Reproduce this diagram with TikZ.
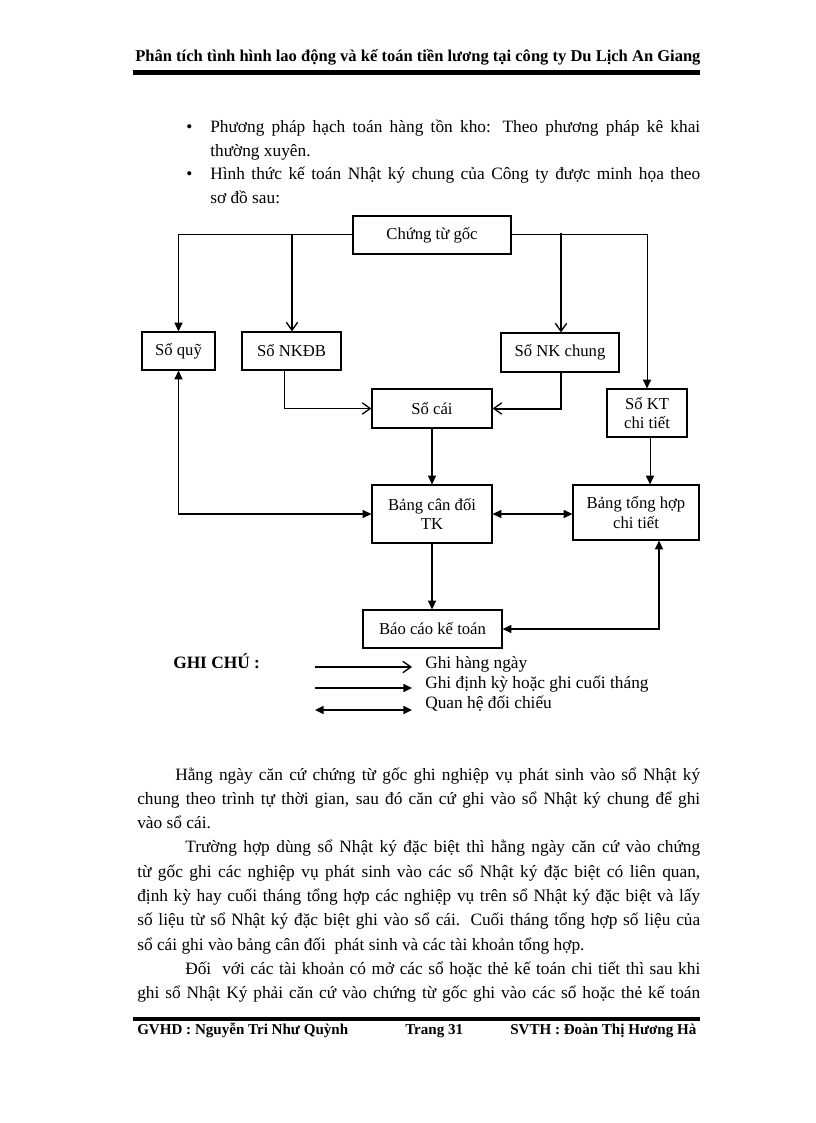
\documentclass[tikz,border=0pt]{standalone}
\usepackage{fontspec}
\setmainfont{Liberation Serif}
\usetikzlibrary{arrows.meta}
\newcommand{\jl}[2]{\makebox[#1][s]{#2}}
\begin{document}
\begin{tikzpicture}[x=0.75pt,y=-0.75pt,
  box/.style={draw,line width=0.9pt,inner sep=0pt,align=center,font=\fontsize{12.5}{14.5}\selectfont},
  thinln/.style={line width=0.75pt},
  medln/.style={line width=1.1pt},
  thickln/.style={line width=1.5pt},
  fa/.style={-{Triangle[length=6.5pt,width=6pt]}},
  oa/.style={-{Straight Barb[length=6pt,width=8.5pt,line width=1pt]}},
  da/.style={{Triangle[length=6.5pt,width=6pt]}-{Triangle[length=6.5pt,width=6pt]}},
  body/.style={anchor=base west,inner sep=0pt,font=\fontsize{13}{16}\selectfont},
  bhead/.style={anchor=base west,inner sep=0pt,font=\bfseries\fontsize{12.4}{14}\selectfont},
  bfoot/.style={anchor=base west,inner sep=0pt,font=\bfseries\fontsize{11.3}{13}\selectfont},
  rule/.style={line width=3.5pt}]
\useasboundingbox[fill=white] (0,0) rectangle (816,1123);

% header
\node[bhead] (head) at (135,62) {Phân tích tình hình lao động và kế toán tiền lương tại công ty Du Lịch An Giang};
\draw[rule] (133,72.5) -- (700,72.5);

% bullets
\node[body] (b1) at (186,133) {\textbullet};
\node[body] (t1) at (210,133) {\jl{367.5pt}{Phương pháp hạch toán hàng tồn kho: Theo phương pháp kê khai}};
\node[body] (t2) at (210,156.5) {thường xuyên.};
\node[body] (b2) at (186,180) {\textbullet};
\node[body] (t3) at (210,180) {\jl{367.5pt}{Hình thức kế toán Nhật ký chung của Công ty được minh họa theo}};
\node[body] (t4) at (210,203.5) {sơ đồ sau:};

% boxes
\node[box,minimum width=118.5pt,minimum height=28.5pt] (goc) at (432,235) {Chứng từ gốc};
\node[box,minimum width=54.75pt,minimum height=28.5pt] (quy) at (178.5,351) {Sổ quỹ};
\node[box,minimum width=74.25pt,minimum height=28.5pt] (nkdb) at (291.5,351) {Sổ NKĐB};
\node[box,minimum width=88.5pt,minimum height=29.25pt] (nkc) at (560,352.5) {Sổ NK chung};
\node[box,minimum width=90pt,minimum height=29.25pt] (cai) at (432,408.5) {Sổ cái};
\node[box,minimum width=60pt,minimum height=36pt] (kt) at (647,413) {Sổ KT\\chi tiết};
\node[box,minimum width=90pt,minimum height=43.5pt] (bcd) at (432,514) {Bảng cân đối\\TK};
\node[box,minimum width=94.5pt,minimum height=41.25pt] (bth) at (636,512.5) {Bảng tổng hợp\\chi tiết};
\node[box,minimum width=104.25pt,minimum height=28.5pt] (bc) at (432.5,629) {Báo cáo kế toán};

% connectors
\coordinate (j1) at (292,235);
\coordinate (j2) at (561,233);
\coordinate (a1) at (284,370);
\coordinate (k1) at (650,0);
\coordinate (k2) at (659,0);
\draw[thinln,fa] (goc.west) -| (quy.north);
\draw[thinln,fa] (goc.east) -| (kt.north);
\draw[thickln,oa] (j1) -- (j1 |- nkdb.north);
\draw[thickln,oa] (j2) -- (j2 |- nkc.north);
\draw[thinln,oa] (a1) |- (cai.west);
\draw[thickln,oa] (nkc.south -| j2) |- (cai.east);
\draw[medln,fa] (cai.south) -- (bcd.north);
\draw[medln,da] (quy.south) |- (bcd.west);
\draw[medln,da] (bcd.east) -- (bcd.east -| bth.west);
\draw[thinln,fa] (kt.south -| k1) -- (bth.north -| k1);
\draw[medln,fa] (bcd.south) -- (bcd.south |- bc.north);
\draw[medln,da] (bc.east) -| (bth.south -| k2);

% legend
\node[bhead,font=\bfseries\fontsize{13}{16}\selectfont] (gc) at (173,668) {GHI CHÚ :};
\coordinate (l1a) at (315,667); \coordinate (l1b) at (412,667);
\coordinate (l2a) at (315,688); \coordinate (l2b) at (412,688);
\coordinate (l3a) at (315,710); \coordinate (l3b) at (412,710);
\draw[medln,oa] (l1a) -- (l1b);
\draw[medln,fa] (l2a) -- (l2b);
\draw[medln,da] (l3a) -- (l3b);
\node[body] (g1) at (425,668) {Ghi hàng ngày};
\node[body] (g2) at (425,688) {Ghi định kỳ hoặc ghi cuối tháng};
\node[body] (g3) at (425,708) {Quan hệ đối chiếu};

% body text
\node[body] (p1) at (175,780) {\jl{393.75pt}{Hằng ngày căn cứ chứng từ gốc ghi nghiệp vụ phát sinh vào sổ Nhật ký}};
\node[body] (p2) at (137,804.3) {\jl{422.25pt}{chung theo trình tự thời gian, sau đó căn cứ ghi vào sổ Nhật ký chung để ghi}};
\node[body] (p3) at (137,828.6) {vào sổ cái.};
\node[body] (p4) at (185,852.9) {\jl{386.25pt}{Trường hợp dùng sổ Nhật ký đặc biệt thì hằng ngày căn cứ vào chứng}};
\node[body] (p5) at (137,877.2) {\jl{422.25pt}{từ gốc ghi các nghiệp vụ phát sinh vào các sổ Nhật ký đặc biệt có liên quan,}};
\node[body] (p6) at (137,901.5) {\jl{422.25pt}{định kỳ hay cuối tháng tổng hợp các nghiệp vụ trên sổ Nhật ký đặc biệt và lấy}};
\node[body] (p7) at (137,925.8) {\jl{422.25pt}{số liệu từ sổ Nhật ký đặc biệt ghi vào sổ cái. Cuối tháng tổng hợp số liệu của}};
\node[body] (p8) at (137,950.1) {sổ cái ghi vào bảng cân đối\ \ phát sinh và các tài khoản tổng hợp.};
\node[body] (p9) at (185,974.4) {\jl{386.25pt}{Đối\ \ với các tài khoản có mở các sổ hoặc thẻ kế toán chi tiết thì sau khi}};
\node[body] (p10) at (137,998.7) {\jl{422.25pt}{ghi sổ Nhật Ký phải căn cứ vào chứng từ gốc ghi vào các sổ hoặc thẻ kế toán}};

% footer
\draw[rule] (133,1019) -- (700,1019);
\node[bfoot] (f1) at (137,1034) {GVHD : Nguyễn Tri Như Quỳnh};
\node[bfoot] (f2) at (405,1034) {Trang 31};
\node[bfoot] (f3) at (510,1034) {SVTH : Đoàn Thị Hương Hà};
\end{tikzpicture}
\end{document}
